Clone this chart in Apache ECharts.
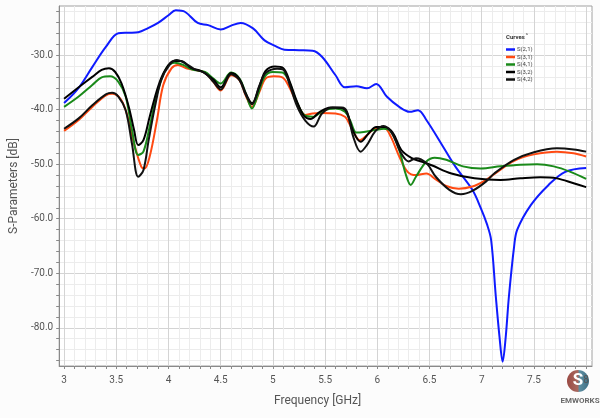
<!DOCTYPE html>
<html><head><meta charset="utf-8">
<script src="https://cdn.jsdelivr.net/npm/echarts@6/dist/echarts.min.js"></script>
<style>html,body{margin:0;padding:0;background:#fcfcfc}#c{width:600px;height:418px}</style>
</head><body><div id="c"></div>
<script>
// ---- tick labels ----
const xMajorTicks = [3, 3.5, 4, 4.5, 5, 5.5, 6, 6.5, 7, 7.5, 8];
const yMajorTicks = [-80, -70, -60, -50, -40, -30];
const seriesNames = ['S(2,1)', 'S(3,1)', 'S(4,1)', 'S(3,2)', 'S(4,2)'];

// ---- series values (frequency GHz, dB) ----
const s21Freq = [3.0,3.14,3.27,3.40,3.52,3.62,3.71,3.80,3.90,4.0,4.07,4.16,4.28,4.38,4.50,4.60,4.69,4.81,4.92,5.02,5.11,5.25,5.38,5.47,5.60,5.69,5.80,5.90,5.99,6.09,6.21,6.31,6.39,6.47,6.63,6.75,6.91,6.99,7.05,7.09,7.135,7.17,7.20,7.23,7.26,7.31,7.34,7.47,7.64,7.80,8.0];
const s21dB   = [-38.8,-36.0,-32.2,-28.5,-26.0,-25.9,-25.8,-25.1,-24.1,-22.7,-21.8,-22.1,-24.1,-24.5,-25.3,-24.6,-24.1,-25.1,-27.3,-28.3,-29.0,-29.1,-29.2,-30.3,-33.7,-35.9,-35.7,-36.1,-35.3,-37.6,-39.5,-40.4,-40.1,-41.9,-46.8,-50.5,-54.7,-58.0,-61.0,-63.9,-74.3,-81.6,-86.2,-81.6,-74.3,-65.1,-62.0,-57.5,-53.8,-51.4,-50.7];

const s31Freq = [3.0,3.14,3.27,3.40,3.46,3.54,3.60,3.67,3.74,3.77,3.82,3.89,3.95,4.03,4.09,4.17,4.25,4.35,4.43,4.50,4.60,4.68,4.74,4.80,4.87,4.93,5.01,5.09,5.15,5.23,5.31,5.38,5.46,5.60,5.69,5.73,5.77,5.83,5.90,5.99,6.07,6.13,6.21,6.29,6.37,6.47,6.56,6.66,6.78,6.91,7.03,7.13,7.31,7.50,7.72,7.88,8.0];
const s31dB   = [-43.9,-41.9,-39.5,-37.4,-37.1,-38.0,-40.7,-46.2,-50.5,-50.8,-48.6,-41.9,-35.5,-32.4,-31.8,-32.4,-32.7,-33.2,-34.9,-36.5,-33.7,-34.6,-37.4,-39.5,-36.8,-34.3,-33.9,-34.1,-35.6,-38.8,-41.0,-40.7,-40.6,-40.7,-41.3,-42.5,-44.0,-45.6,-44.7,-43.4,-43.4,-45.0,-48.6,-51.4,-52.0,-51.7,-52.8,-54.0,-54.5,-54.1,-53.0,-51.7,-49.4,-48.2,-47.7,-48.0,-48.6];

const s41Freq = [3.0,3.14,3.27,3.36,3.44,3.52,3.59,3.65,3.71,3.76,3.82,3.90,3.98,4.06,4.14,4.22,4.35,4.43,4.50,4.60,4.68,4.74,4.80,4.85,4.92,5.00,5.09,5.15,5.22,5.30,5.38,5.49,5.60,5.69,5.74,5.80,5.87,5.99,6.06,6.13,6.21,6.27,6.32,6.37,6.47,6.55,6.66,6.82,6.99,7.18,7.37,7.53,7.69,7.85,8.0];
const s41dB   = [-39.5,-37.6,-35.5,-34.1,-33.9,-34.9,-37.6,-43.7,-48.3,-47.7,-43.1,-36.4,-32.4,-31.4,-31.8,-32.6,-33.1,-34.3,-35.2,-33.2,-34.3,-37.0,-39.8,-37.6,-34.0,-33.1,-33.2,-34.6,-38.2,-41.0,-41.3,-40.1,-39.8,-40.4,-42.0,-44.2,-44.1,-43.7,-43.5,-44.0,-47.4,-51.7,-53.8,-52.3,-49.5,-48.8,-49.2,-50.4,-50.8,-50.4,-50.1,-50.0,-50.4,-51.4,-52.7];

const s32Freq = [3.0,3.14,3.27,3.36,3.43,3.49,3.55,3.62,3.67,3.71,3.76,3.82,3.90,3.97,4.05,4.12,4.22,4.31,4.43,4.50,4.60,4.68,4.74,4.80,4.87,4.93,5.02,5.10,5.16,5.23,5.30,5.36,5.45,5.55,5.66,5.71,5.77,5.84,5.92,5.99,6.07,6.15,6.23,6.33,6.42,6.52,6.71,6.93,7.18,7.37,7.56,7.72,7.88,8.0];
const s32dB   = [-38.0,-35.9,-34.0,-32.7,-32.4,-33.1,-35.2,-39.5,-43.7,-46.5,-45.6,-41.3,-35.8,-32.7,-31.1,-31.1,-32.4,-32.9,-34.5,-35.9,-33.3,-34.4,-37.0,-38.8,-35.8,-32.9,-32.1,-32.4,-34.8,-38.5,-41.2,-41.7,-40.4,-39.6,-39.7,-40.6,-44.0,-45.9,-44.3,-43.2,-43.2,-44.3,-47.4,-48.9,-49.5,-50.2,-51.7,-52.6,-52.9,-52.6,-52.4,-52.6,-53.5,-54.2];

const s42Freq = [3.0,3.14,3.27,3.40,3.46,3.52,3.59,3.65,3.71,3.76,3.81,3.87,3.93,4.01,4.08,4.16,4.25,4.35,4.43,4.50,4.60,4.68,4.74,4.80,4.87,4.93,5.04,5.10,5.16,5.23,5.31,5.39,5.47,5.57,5.66,5.71,5.77,5.84,5.90,5.98,6.06,6.14,6.22,6.30,6.37,6.47,6.56,6.69,6.80,6.91,7.04,7.12,7.31,7.50,7.72,7.88,8.0];
const s42dB   = [-43.5,-41.6,-39.2,-37.2,-36.9,-37.6,-40.1,-46.2,-52.3,-51.1,-45.6,-39.5,-34.6,-31.8,-30.9,-31.5,-32.6,-33.3,-34.9,-36.3,-33.5,-34.6,-37.3,-39.0,-35.6,-33.3,-32.5,-32.7,-35.4,-39.3,-42.0,-43.1,-40.7,-39.6,-39.6,-40.4,-45.0,-47.7,-46.5,-44.0,-43.0,-44.3,-47.7,-49.5,-48.9,-49.8,-52.3,-54.7,-55.5,-54.9,-53.2,-51.7,-49.2,-47.8,-47.1,-47.3,-47.7];

// ---- build ----
const X0 = 2.953, X1 = 8.056, Y0 = -87, Y1 = -21;
const xMinor = []; for (let i = 30; i <= 80; i++) xMinor.push(i / 10);
const yMinor = []; for (let v = -86; v <= -22; v += 2) yMinor.push(v);
const colors = ['#0f1bff', '#ff4a12', '#1a8a1a', '#000000', '#111111'];
const freqs = [s21Freq, s31Freq, s41Freq, s32Freq, s42Freq];
const vals = [s21dB, s31dB, s41dB, s32dB, s42dB];
const zip = (f, v) => f.map((x, i) => [x, v[i]]);

const axisGray = '#8a8a8a';
const font = 'Roboto, "Liberation Sans", sans-serif';

const chart = echarts.init(document.getElementById('c'), null, {renderer: 'canvas'});
chart.setOption({
  backgroundColor: '#fcfcfc',
  animation: false,
  textStyle: {fontFamily: font},
  grid: {left: 55, right: 8, top: 6, bottom: 52, show: true, backgroundColor: '#ffffff', borderColor: '#a0a0a0', borderWidth: 1},
  title: {
    text: 'Curves{c|^}', left: 506, top: 33, padding: 0,
    textStyle: {fontSize: 6, fontWeight: 'bold', color: '#333', fontFamily: font,
      rich: {c: {fontSize: 5, color: '#666', verticalAlign: 'top', padding: [0, 0, 3, 1]}}}
  },
  legend: {
    data: seriesNames, orient: 'vertical', left: 506, top: 46, padding: 0,
    icon: 'rect', itemWidth: 9, itemHeight: 2.5, itemGap: 0.5,
    textStyle: {fontSize: 6, lineHeight: 7, color: '#444', padding: [0, 0, 0, -3]}
  },
  xAxis: [{
    type: 'value', min: X0, max: X1, position: 'bottom',
    axisLine: {show: true, onZero: false, lineStyle: {color: axisGray}},
    axisTick: {show: true, customValues: xMinor, length: 3, lineStyle: {color: axisGray}},
    axisLabel: {customValues: xMajorTicks, margin: 9, fontSize: 10, color: '#555'},
    splitLine: {show: true, lineStyle: {color: '#ececec'}},
    name: 'Frequency [GHz]', nameLocation: 'middle', nameGap: 29,
    nameTextStyle: {fontSize: 12, color: '#555', padding: [0, 16, 0, 0]}
  }, {
    type: 'value', min: X0, max: X1, position: 'bottom',
    axisLine: {show: false}, axisTick: {show: false, customValues: xMajorTicks},
    axisLabel: {show: false}, splitLine: {show: true, lineStyle: {color: '#d4d4d4'}}
  }],
  yAxis: [{
    type: 'value', min: Y0, max: Y1, position: 'left',
    axisLine: {show: true, onZero: false, lineStyle: {color: axisGray}},
    axisTick: {show: true, customValues: yMinor, length: 3, lineStyle: {color: axisGray}},
    axisLabel: {customValues: yMajorTicks, margin: 6, fontSize: 10, color: '#555', formatter: v => Number(v).toFixed(1)},
    splitLine: {show: true, lineStyle: {color: '#ececec'}},
    name: 'S-Parameters [dB]', nameLocation: 'middle', nameGap: 31,
    nameTextStyle: {fontSize: 12, color: '#555'}
  }, {
    type: 'value', min: Y0, max: Y1, position: 'left',
    axisLine: {show: false}, axisTick: {show: false, customValues: yMajorTicks},
    axisLabel: {show: false}, splitLine: {show: true, lineStyle: {color: '#d4d4d4'}}
  }],
  graphic: [
    {type: 'circle', z: -1, shape: {cx: 578, cy: 381, r: 11},
     style: {fill: new echarts.graphic.LinearGradient(0, 0, 1, 0, [{offset: 0, color: '#9b4a44'}, {offset: 0.5, color: '#a86a60'}, {offset: 0.55, color: '#5d8fa2'}, {offset: 1, color: '#3f6f85'}])}},
    {type: 'text', z: -1, style: {text: 'S', x: 578, y: 381, fill: '#ffffff', fontSize: 17, fontWeight: 'bold', align: 'center', verticalAlign: 'middle', fontFamily: font}},
    {type: 'text', style: {text: 'EMWORKS', x: 580, y: 401, fill: '#6a6a6a', fontSize: 8, fontWeight: 'bold', align: 'center', verticalAlign: 'middle', fontFamily: font}}
  ],
  series: seriesNames.map((n, i) => ({
    name: n, type: 'line', xAxisIndex: 0, yAxisIndex: 0,
    data: zip(freqs[i], vals[i]), symbol: 'none', smooth: 0.35,
    lineStyle: {color: colors[i], width: 2}, itemStyle: {color: colors[i]}, clip: true
  }))
});
</script></body></html>
